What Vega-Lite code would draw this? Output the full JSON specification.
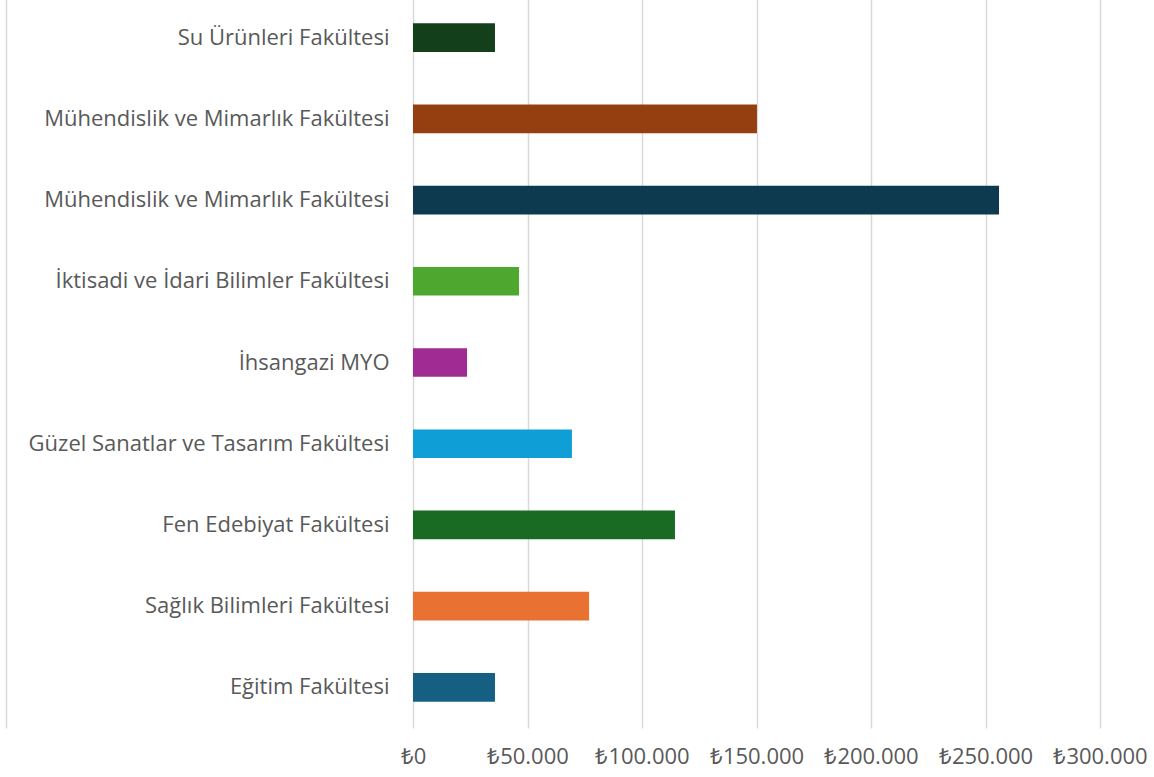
{
  "$schema": "https://vega.github.io/schema/vega-lite/v6.json",
  "width": 687,
  "height": 731,
  "autosize": {"type": "none"},
  "padding": {"left": 413, "top": -3, "right": 54, "bottom": 49},
  "background": "white",
  "config": {"view": {"stroke": null}, "font": "Open Sans"},
  "data": {
    "values": [
      {"key": "Su Ürünleri Fakültesi|1", "order": 1, "value": 35800},
      {"key": "Mühendislik ve Mimarlık Fakültesi|2", "order": 2, "value": 150200},
      {"key": "Mühendislik ve Mimarlık Fakültesi|3", "order": 3, "value": 255900},
      {"key": "İktisadi ve İdari Bilimler Fakültesi|4", "order": 4, "value": 46300},
      {"key": "İhsangazi MYO|5", "order": 5, "value": 23600},
      {"key": "Güzel Sanatlar ve Tasarım Fakültesi|6", "order": 6, "value": 69400},
      {"key": "Fen Edebiyat Fakültesi|7", "order": 7, "value": 114400},
      {"key": "Sağlık Bilimleri Fakültesi|8", "order": 8, "value": 76900},
      {"key": "Eğitim Fakültesi|9", "order": 9, "value": 35800}
    ]
  },
  "layer": [
    {
      "mark": {"type": "bar"},
      "encoding": {
        "y": {
          "field": "key",
          "type": "nominal",
          "sort": {"field": "order"},
          "title": null,
          "scale": {"paddingInner": 0.647, "paddingOuter": 0.3235},
          "axis": {
            "labelExpr": "split(datum.label, '|')[0]",
            "domain": false,
            "ticks": false,
            "labelPadding": 24,
            "labelFontSize": 22,
            "labelColor": "#595959",
            "labelLimit": 500
          }
        },
        "x": {
          "field": "value",
          "type": "quantitative",
          "title": null,
          "scale": {"domain": [0, 300000], "nice": false},
          "axis": {
            "values": [0, 50000, 100000, 150000, 200000, 250000, 300000],
            "labelExpr": "'₺' + replace(format(datum.value, ','), ',', '.')",
            "domain": false,
            "ticks": false,
            "grid": true,
            "gridColor": "#d9d9d9",
            "gridWidth": 1.5,
            "labelPadding": 18,
            "labelFontSize": 22,
            "labelColor": "#595959",
            "labelFlush": false
          }
        },
        "color": {
          "field": "key",
          "type": "nominal",
          "legend": null,
          "scale": {
            "domain": [
              "Su Ürünleri Fakültesi|1",
              "Mühendislik ve Mimarlık Fakültesi|2",
              "Mühendislik ve Mimarlık Fakültesi|3",
              "İktisadi ve İdari Bilimler Fakültesi|4",
              "İhsangazi MYO|5",
              "Güzel Sanatlar ve Tasarım Fakültesi|6",
              "Fen Edebiyat Fakültesi|7",
              "Sağlık Bilimleri Fakültesi|8",
              "Eğitim Fakültesi|9"
            ],
            "range": ["#133f1a", "#953f10", "#0e3a50", "#4ea72e", "#a02b93", "#0f9ed5", "#196b24", "#e97132", "#156082"]
          }
        }
      }
    },
    {
      "mark": {"type": "bar", "opacity": 0},
      "encoding": {
        "y": {
          "field": "key",
          "type": "nominal",
          "sort": {"field": "order"},
          "title": null,
          "axis": {
            "orient": "left",
            "offset": 407,
            "labels": false,
            "ticks": false,
            "domain": true,
            "domainColor": "#d9d9d9",
            "domainWidth": 1.5
          }
        },
        "x": {"field": "value", "type": "quantitative"}
      }
    }
  ],
  "resolve": {"axis": {"y": "independent"}}
}
